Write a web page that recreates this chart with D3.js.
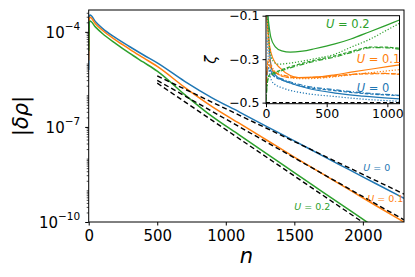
<!DOCTYPE html>
<html><head><meta charset="utf-8">
<script src="https://cdn.jsdelivr.net/npm/d3@7"></script>
<style>
html,body{margin:0;padding:0;background:#fff;}
svg{display:block;font-family:"DejaVu Sans",sans-serif;}
</style></head>
<body>
<svg id="chart" width="415" height="277"></svg>
<script>
// ---------------- DATA ----------------
// Main panel: |δρ| versus n
const nMain = [0, 5, 10, 50, 100, 200, 300, 400, 500, 700, 900, 1100, 1300, 1500, 1700, 1900, 2100, 2300];
const rhoU0  = [6.3e-6, 3.16e-4, 3.39e-4, 2.09e-4, 1.29e-4, 6.3e-5, 3.39e-5, 1.86e-5, 1.05e-5, 2.75e-6, 8.3e-7, 2.95e-7, 1.02e-7, 3.63e-8, 1.26e-8, 4.47e-9, 1.58e-9, 5.6e-10];
const rhoU01 = [1.26e-5, 2.63e-4, 2.88e-4, 1.78e-4, 1.12e-4, 5.4e-5, 2.82e-5, 1.51e-5, 8.1e-6, 1.78e-6, 4.4e-7, 1.29e-7, 3.8e-8, 1.12e-8, 3.4e-9, 1.05e-9, 3.2e-10, 1.0e-10];
const rhoU02 = [2.5e-5, 2.0e-4, 2.19e-4, 1.41e-4, 8.9e-5, 4.2e-5, 2.09e-5, 1.1e-5, 5.75e-6, 1.05e-6, 2.14e-7, 5.5e-8, 1.41e-8, 3.6e-9, 9.3e-10, 2.4e-10, 6.2e-11, 1.6e-11];
// asymptotic (dashed black) fits
const nFit = [500, 2300];
const fitU0  = [4.07e-6, 7.6e-10];
const fitU01 = [2.95e-6, 1.17e-10];
const fitU02 = [2.4e-6, 1.29e-11];
const seriesLabels = ["U = 0", "U = 0.1", "U = 0.2"];
const xTicksMain = [0, 500, 1000, 1500, 2000];
const yTicksMain = [1e-10, 1e-7, 1e-4];

// Inset: ζ versus n
const zU0solid   = [[15,-0.1],[30,-0.27],[50,-0.35],[100,-0.385],[200,-0.41],[350,-0.435],[568,-0.456],[800,-0.47],[1100,-0.483]];
const zU0dashdot = [[0,-0.42],[15,-0.35],[50,-0.37],[150,-0.395],[300,-0.42],[568,-0.441],[800,-0.455],[1100,-0.466]];
const zU0dashed  = [[0,-0.4],[20,-0.34],[60,-0.375],[150,-0.4],[300,-0.425],[568,-0.445],[800,-0.458],[1100,-0.468]];
const zU0dotted  = [[10,-0.2],[30,-0.37],[60,-0.41],[150,-0.435],[300,-0.455],[568,-0.472],[800,-0.484],[1100,-0.494]];
const zU01solid   = [[5,-0.1],[30,-0.24],[60,-0.3],[115,-0.34],[200,-0.375],[266,-0.385],[400,-0.383],[568,-0.372],[700,-0.36],[900,-0.343],[1100,-0.326]];
const zU01dotted  = [[10,-0.15],[30,-0.3],[80,-0.36],[150,-0.38],[300,-0.39],[500,-0.385],[700,-0.372],[900,-0.36],[1100,-0.348]];
const zU01dashdot = [[0,-0.45],[15,-0.32],[50,-0.35],[150,-0.375],[300,-0.385],[500,-0.38],[700,-0.37],[850,-0.365],[1000,-0.366],[1100,-0.369]];
const zU01dashed  = [[0,-0.42],[20,-0.3],[60,-0.355],[200,-0.385],[400,-0.385],[600,-0.376],[800,-0.368],[1000,-0.367],[1100,-0.37]];
const zU02solid   = [[15,-0.1],[40,-0.2],[75,-0.242],[130,-0.262],[200,-0.268],[300,-0.263],[400,-0.252],[568,-0.23],[700,-0.207],[850,-0.175],[1000,-0.142],[1100,-0.12]];
const zU02dotted  = [[10,-0.1],[30,-0.25],[60,-0.31],[100,-0.323],[200,-0.318],[400,-0.298],[568,-0.277],[700,-0.245],[850,-0.21],[1000,-0.165],[1100,-0.135]];
const zU02dashdot = [[0,-0.5],[8,-0.43],[20,-0.385],[100,-0.36],[200,-0.34],[400,-0.31],[568,-0.29],[700,-0.27],[870,-0.247],[1000,-0.248],[1100,-0.254]];
const zU02dashed  = [[0,-0.48],[10,-0.41],[25,-0.375],[100,-0.355],[200,-0.335],[400,-0.305],[568,-0.285],[700,-0.265],[870,-0.244],[1000,-0.245],[1100,-0.25]];
const zLimit = [[0,-0.5],[1100,-0.5]];
const xTicksInset = [0, 500, 1000];
const yTicksInset = [-0.1, -0.3, -0.5];

// ---------------- DRAW ----------------
const C = {b:"#1f77b4", o:"#ff7f0e", g:"#2ca02c"};
const svg = d3.select("#chart");
const M = {l:88.7, r:404, t:10, b:222};
const x = d3.scaleLinear([0, 2300], [M.l, M.r]);
const y = d3.scaleLog([1e-10, Math.pow(10,-3.31)], [M.b, M.t]);

svg.append("clipPath").attr("id","clipMain").append("rect")
  .attr("x",M.l).attr("y",M.t).attr("width",M.r-M.l).attr("height",M.b-M.t);

const gMain = svg.append("g").attr("clip-path","url(#clipMain)");
const lineMain = d3.line().x(d=>x(d[0])).y(d=>y(d[1])).curve(d3.curveMonotoneX);
[[rhoU0,C.b],[rhoU01,C.o],[rhoU02,C.g]].forEach(([v,c])=>{
  gMain.append("path").attr("d", lineMain(nMain.map((n,i)=>[n,v[i]])))
    .attr("fill","none").attr("stroke",c).attr("stroke-width",1.5);
});
const lineFit = d3.line().x(d=>x(d[0])).y(d=>y(d[1]));
[fitU0, fitU01, fitU02].forEach(v=>{
  gMain.append("path").attr("d", lineFit(nFit.map((n,i)=>[n,v[i]])))
    .attr("fill","none").attr("stroke","#000").attr("stroke-width",1.4)
    .attr("stroke-dasharray","5,3");
});

// main labels
const lab = svg.append("g");
function uLabel(g, xx, yy, txt, col, fs){
  const t = g.append("text").attr("x",xx).attr("y",yy).attr("fill",col).attr("font-size",fs);
  const parts = txt.split(" = ");
  t.append("tspan").attr("font-style","italic").text(parts[0]);
  t.append("tspan").text(" = " + parts[1]);
}
uLabel(lab, 363.3, 171, seriesLabels[0], C.b, 9.5);
uLabel(lab, 367.3, 201.5, seriesLabels[1], C.o, 9.5);
uLabel(lab, 294.3, 210, seriesLabels[2], C.g, 9.5);

// axes main
const xAxis = d3.axisBottom(x).tickValues(xTicksMain).tickSize(3.5).tickPadding(5).tickFormat(d3.format("d"));
const gx = svg.append("g").attr("transform",`translate(0,${M.b})`).call(xAxis);
gx.select(".domain").remove();
gx.selectAll("text").attr("font-size",15).attr("font-family","DejaVu Sans").attr("fill","#000");
gx.selectAll("line").attr("stroke","#000");

const minor = [];
for (let k=-10;k<=-3;k++) for (let d=1; d<=9; d++){
  const v = d*Math.pow(10,k);
  if (v>=1e-10 && v<=Math.pow(10,-3.31) && !yTicksMain.some(t=>Math.abs(t-v)/v<1e-6)) minor.push(v);
}
const gyMin = svg.append("g").attr("transform",`translate(${M.l},0)`)
  .call(d3.axisLeft(y).tickValues(minor).tickSize(2).tickFormat(""));
gyMin.select(".domain").remove();
gyMin.selectAll("line").attr("stroke","#000").attr("stroke-width",0.7);

const gy = svg.append("g").attr("transform",`translate(${M.l},0)`)
  .call(d3.axisLeft(y).tickValues(yTicksMain).tickSize(3.5).tickPadding(5).tickFormat(()=>""));
gy.select(".domain").remove();
gy.selectAll("line").attr("stroke","#000");
gy.selectAll("text").each(function(d){
  const t = d3.select(this).attr("font-size",15).attr("font-family","DejaVu Sans").attr("fill","#000").attr("dy","0.38em");
  t.append("tspan").text("10");
  t.append("tspan").attr("font-size",10.5).attr("dy","-0.75em").text("\u2212" + Math.round(-Math.log10(d)));
});

svg.append("rect").attr("x",M.l).attr("y",M.t).attr("width",M.r-M.l).attr("height",M.b-M.t)
  .attr("fill","none").attr("stroke","#000").attr("stroke-width",1);

// axis labels
svg.append("text").attr("x",(M.l+M.r)/2).attr("y",263).attr("text-anchor","middle")
  .attr("font-size",21).attr("font-style","italic").text("n");
const yl = svg.append("text").attr("transform",`translate(28,${(M.t+M.b)/2}) rotate(-90)`)
  .attr("text-anchor","middle").attr("font-size",21);
yl.append("tspan").text("|");
yl.append("tspan").attr("font-style","italic").text("δρ");
yl.append("tspan").text("|");

// ---------------- INSET ----------------
const I = {l:266, r:399.5, t:15.7, b:103.7};
const xi = d3.scaleLinear([0, 1100], [I.l, I.r]);
const yi = d3.scaleLinear([-0.505, -0.1], [I.b, I.t]);
svg.append("rect").attr("x",I.l).attr("y",I.t).attr("width",I.r-I.l).attr("height",I.b-I.t).attr("fill","#fff");
svg.append("clipPath").attr("id","clipIn").append("rect")
  .attr("x",I.l).attr("y",I.t).attr("width",I.r-I.l).attr("height",I.b-I.t);
const gIn = svg.append("g").attr("clip-path","url(#clipIn)");
const lineIn = d3.line().x(d=>xi(d[0])).y(d=>yi(d[1])).curve(d3.curveMonotoneX);
const styles = {solid:null, dotted:"1.2,1.8", dashdot:"5,1.8,1.2,1.8", dashed:"3.5,1.8"};
const insetSeries = [
  [zU0dotted,C.b,"dotted"],[zU0dashed,C.b,"dashed"],[zU0dashdot,C.b,"dashdot"],[zU0solid,C.b,"solid"],
  [zU01dotted,C.o,"dotted"],[zU01dashed,C.o,"dashed"],[zU01dashdot,C.o,"dashdot"],[zU01solid,C.o,"solid"],
  [zU02dotted,C.g,"dotted"],[zU02dashed,C.g,"dashed"],[zU02dashdot,C.g,"dashdot"],[zU02solid,C.g,"solid"]
];
insetSeries.forEach(([data,col,st])=>{
  const p = gIn.append("path").attr("d",lineIn(data)).attr("fill","none").attr("stroke",col).attr("stroke-width",1.2);
  if (styles[st]) p.attr("stroke-dasharray",styles[st]);
});
gIn.append("path").attr("d",d3.line().x(d=>xi(d[0])).y(d=>yi(d[1]))(zLimit))
  .attr("fill","none").attr("stroke","#000").attr("stroke-width",1.4).attr("stroke-dasharray","4,2.5");

const ixAxis = svg.append("g").attr("transform",`translate(0,${I.b})`)
  .call(d3.axisBottom(xi).tickValues(xTicksInset).tickSize(3.5).tickPadding(1.5).tickFormat(d3.format("d")));
ixAxis.select(".domain").remove();
ixAxis.selectAll("text").attr("font-size",12.5).attr("font-family","DejaVu Sans").attr("fill","#000");
ixAxis.selectAll("line").attr("stroke","#000");
const iyAxis = svg.append("g").attr("transform",`translate(${I.l},0)`)
  .call(d3.axisLeft(yi).tickValues(yTicksInset).tickSize(3.5).tickPadding(3).tickFormat(d=>"\u2212"+d3.format(".1f")(-d)));
iyAxis.select(".domain").remove();
iyAxis.selectAll("text").attr("font-size",12.5).attr("font-family","DejaVu Sans").attr("fill","#000");
iyAxis.selectAll("line").attr("stroke","#000");
svg.append("rect").attr("x",I.l).attr("y",I.t).attr("width",I.r-I.l).attr("height",I.b-I.t)
  .attr("fill","none").attr("stroke","#000").attr("stroke-width",1);

const labIn = svg.append("g");
uLabel(labIn, 326, 28, seriesLabels[2], C.g, 11.5);
uLabel(labIn, 356.7, 63, seriesLabels[1], C.o, 11.5);
uLabel(labIn, 356.7, 91.5, seriesLabels[0], C.b, 11.5);

svg.append("text").attr("transform",`translate(216,${(I.t+I.b)/2}) rotate(-90)`)
  .attr("text-anchor","middle").attr("font-size",15).attr("font-style","italic").text("ζ");
</script>
</body></html>
